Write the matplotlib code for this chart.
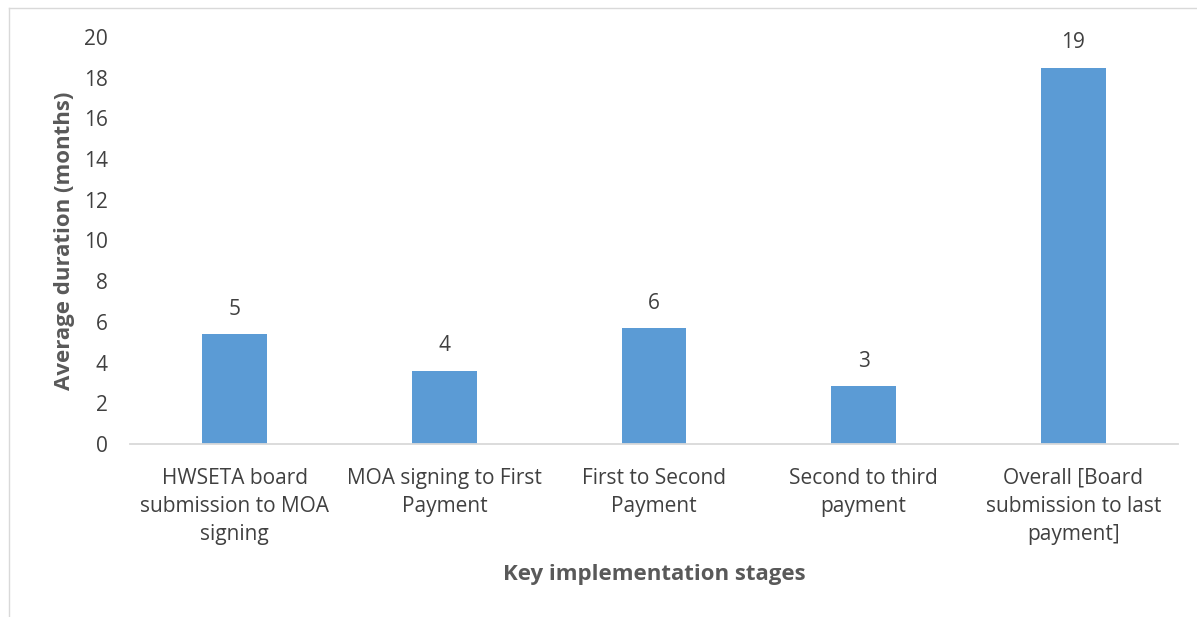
import matplotlib.pyplot as plt
import numpy as np

plt.rcParams['font.family'] = ['Open Sans', 'DejaVu Sans']

stages = ['HWSETA board\nsubmission to MOA\nsigning',
          'MOA signing to First\nPayment',
          'First to Second\nPayment',
          'Second to third\npayment',
          'Overall [Board\nsubmission to last\npayment]']
months = [5.4, 3.6, 5.7, 2.85, 18.5]
yticks = [0, 2, 4, 6, 8, 10, 12, 14, 16, 18, 20]

text_col = '#404040'
bar_col = '#5B9BD5'

fig = plt.figure(figsize=(11.97, 6.17), dpi=100)
ax = fig.add_axes([130/1197, 1 - 444/617, 1048/1197, 407/617])

x = np.arange(len(stages))
bars = ax.bar(x, months, width=0.31, color=bar_col, zorder=2)

# value labels rounded half up, like the spreadsheet does
for b, v in zip(bars, months):
    ax.annotate(str(int(v + 0.5)), (b.get_x() + b.get_width()/2, v),
                xytext=(0, 18), textcoords='offset points',
                ha='center', va='center', fontsize=15, color=text_col)

ax.set_xlim(-0.5, len(stages) - 0.5)
ax.set_ylim(0, 20)
ax.set_yticks(yticks)
ax.set_xticks(x)
ax.set_xticklabels(stages, fontsize=15, color=text_col, linespacing=1.45)
ax.tick_params(axis='y', labelsize=15, labelcolor=text_col, length=0, pad=16)
ax.tick_params(axis='x', length=0, pad=17)

for s in ['top', 'right', 'left']:
    ax.spines[s].set_visible(False)
ax.spines['bottom'].set_color('#D9D9D9')
ax.spines['bottom'].set_linewidth(1.3)

ax.set_ylabel('Average duration (months)', fontsize=16, fontweight='bold',
              color='#595959', labelpad=6)
ax.set_xlabel('Key implementation stages', fontsize=16, fontweight='bold',
              color='#595959', labelpad=14)

# chart area border (left and top edges)
fig.add_artist(plt.Line2D([9/1197, 9/1197], [0, 1 - 8/617],
                          color='#D9D9D9', lw=1, transform=fig.transFigure))
fig.add_artist(plt.Line2D([9/1197, 1], [1 - 8/617, 1 - 8/617],
                          color='#D9D9D9', lw=1, transform=fig.transFigure))

fig.savefig('out.png', dpi=100, facecolor='white')
